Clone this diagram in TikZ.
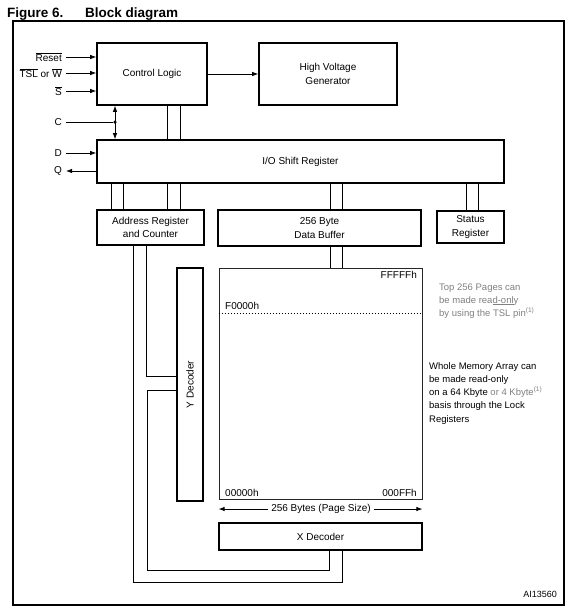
\documentclass[tikz,border=0pt]{standalone}
\usepackage{fontspec}
\setmainfont{Liberation Sans}
\usetikzlibrary{arrows.meta}
\definecolor{anno}{gray}{0.5}
\newcommand\mfs{\fontsize{10}{13.5}\selectfont}
\newcommand\afs{\fontsize{9.5}{13}\selectfont}
\begin{document}
\begin{tikzpicture}[x=1pt,y=-1pt,
  box/.style={draw, line width=1.6pt, inner sep=0pt, align=center, font=\mfs},
  ln/.style={line width=0.8pt},
  arr/.style={ln, -{Latex[length=6pt,width=4.5pt]}},
  darr/.style={ln, {Latex[length=6pt,width=4.5pt]}-{Latex[length=6pt,width=4.5pt]}},
  lbl/.style={font=\mfs, inner sep=0pt},
  sig/.style={font=\mfs, inner xsep=4pt, inner ysep=0pt, anchor=east},
  anot/.style={font=\afs, inner sep=0pt, anchor=base west}]
\useasboundingbox (0,0) rectangle (567,608);
% title
\node[anchor=base west, inner sep=0pt, font=\bfseries\fontsize{13.5}{15}\selectfont] (t1) at (7,17) {Figure 6.};
\node[anchor=base west, inner sep=0pt, font=\bfseries\fontsize{13.5}{15}\selectfont] (t2) at (85,17) {Block diagram};
% frame
\draw[line width=1.2pt] (13,21) rectangle (564,605);
% boxes
\node[box, minimum width=110, minimum height=62] (ctrl) at (152,74) {Control Logic};
\node[box, minimum width=138, minimum height=62] (hvg) at (328,74) {High Voltage\\Generator};
\node[box, minimum width=407, minimum height=43] (io) at (300.5,161.5) {I/O Shift Register};
\node[box, minimum width=107, minimum height=35] (addr) at (150.5,227.5) {Address Register\\and Counter};
\node[box, minimum width=203, minimum height=36] (buf) at (319.5,228) {256 Byte\\Data Buffer};
\node[box, minimum width=67, minimum height=32] (stat) at (470.5,227) {Status\\Register};
\node[box, minimum width=26, minimum height=233] (ydec) at (190,384.5) {};
\node[lbl, rotate=90] (ytxt) at (ydec.center) {Y Decoder};
\node[draw=black!85, line width=0.8pt, minimum width=203, minimum height=231, inner sep=0pt] (mem) at (320.5,383.5) {};
\node[box, minimum width=203, minimum height=27] (xdec) at (320.5,536.5) {X Decoder};
% memory labels
\node[lbl, anchor=north east] (fff) at (417,271) {FFFFFh};
\node[lbl, anchor=west] (f00) at (225,306) {F0000h};
\node[lbl, anchor=west] (z00) at (225,493) {00000h};
\node[lbl, anchor=east] (zff) at (417,493) {000FFh};
\draw[line width=1pt, dash pattern=on 1pt off 2pt] (mem.west |- 0,313) -- (mem.east |- 0,313);
% page size arrow
\node[font=\mfs, inner xsep=3pt, inner ysep=0pt] (pw) at (321,509) {256 Bytes (Page Size)};
\draw[arr] (pw.west) -- (mem.west |- pw.west);
\draw[arr] (pw.east) -- (mem.east |- pw.east);
% input signals
\coordinate (cr) at (66,57);
\coordinate (ct) at (66,73);
\coordinate (cs) at (66,91);
\coordinate (cc) at (66,122);
\coordinate (cd) at (66,153);
\coordinate (cq) at (66,171);
\node[sig] (lr) at (cr) {$\overline{\mbox{Reset}}$};
\node[sig] (lt) at (ct) {$\overline{\mbox{TSL}}$ or $\overline{\mbox{W}}$};
\node[sig] (ls) at (cs) {$\overline{\mbox{S}}$};
\node[sig] (lc) at (cc) {C};
\node[sig] (ld) at (cd) {D};
\node[sig] (lq) at (cq) {Q};
\draw[arr] (cr) -- (ctrl.west |- cr);
\draw[arr] (ct) -- (ctrl.west |- ct);
\draw[arr] (cs) -- (ctrl.west |- cs);
\draw[arr] (cd) -- (io.west |- cd);
\draw[arr] (io.west |- cq) -- (cq);
\node[circle, fill, inner sep=0pt, minimum size=3.5pt] (cdot) at (115,122) {};
\draw[ln] (cc) -- (cdot);
\draw[darr] (115,0 |- ctrl.south) -- (115,0 |- io.north);
% control -> HVG
\draw[arr] (ctrl.east) -- (hvg.west);
% bus pairs
\draw[ln] (167,0 |- ctrl.south) -- (167,0 |- io.north);
\draw[ln] (180,0 |- ctrl.south) -- (180,0 |- io.north);
\draw[ln] (111,0 |- io.south) -- (111,0 |- addr.north);
\draw[ln] (123,0 |- io.south) -- (123,0 |- addr.north);
\draw[ln] (167,0 |- io.south) -- (167,0 |- addr.north);
\draw[ln] (180,0 |- io.south) -- (180,0 |- addr.north);
\draw[ln] (330,0 |- io.south) -- (330,0 |- buf.north);
\draw[ln] (342,0 |- io.south) -- (342,0 |- buf.north);
\draw[ln] (466,0 |- io.south) -- (466,0 |- stat.north);
\draw[ln] (478,0 |- io.south) -- (478,0 |- stat.north);
\draw[ln] (330,0 |- buf.south) -- (330,0 |- mem.north);
\draw[ln] (342,0 |- buf.south) -- (342,0 |- mem.north);
% address routing
\draw[ln] (146,0 |- addr.south) |- (ydec.west |- 0,376);
\draw[ln] (ydec.west |- 0,390) -| (147,570) -| (329,0 |- xdec.south);
\draw[ln] (133,0 |- addr.south) |- (342,582) -- (342,0 |- xdec.south);
% annotations
\node[anot, text=anno] (a1) at (439,290) {Top 256 Pages can};
\node[anot, text=anno] (a2) at (439,303) {be made rea\underline{d-onl}y};
\node[anot, text=anno] (a3) at (439,316) {by using the TSL pin\textsuperscript{(1)}};
\node[anot] (b1) at (429,369) {Whole Memory Array can};
\node[anot] (b2) at (429,382) {be made read-only};
\node[anot] (b3) at (429,395) {on a 64 Kbyte {\color{anno}or 4 Kbyte\textsuperscript{(1)}}};
\node[anot] (b4) at (429,408) {basis through the Lock};
\node[anot] (b5) at (429,422) {Registers};
\node[font=\fontsize{9}{11}\selectfont, inner sep=0pt, anchor=base east] (ai) at (557,597) {AI13560};
\end{tikzpicture}
\end{document}
